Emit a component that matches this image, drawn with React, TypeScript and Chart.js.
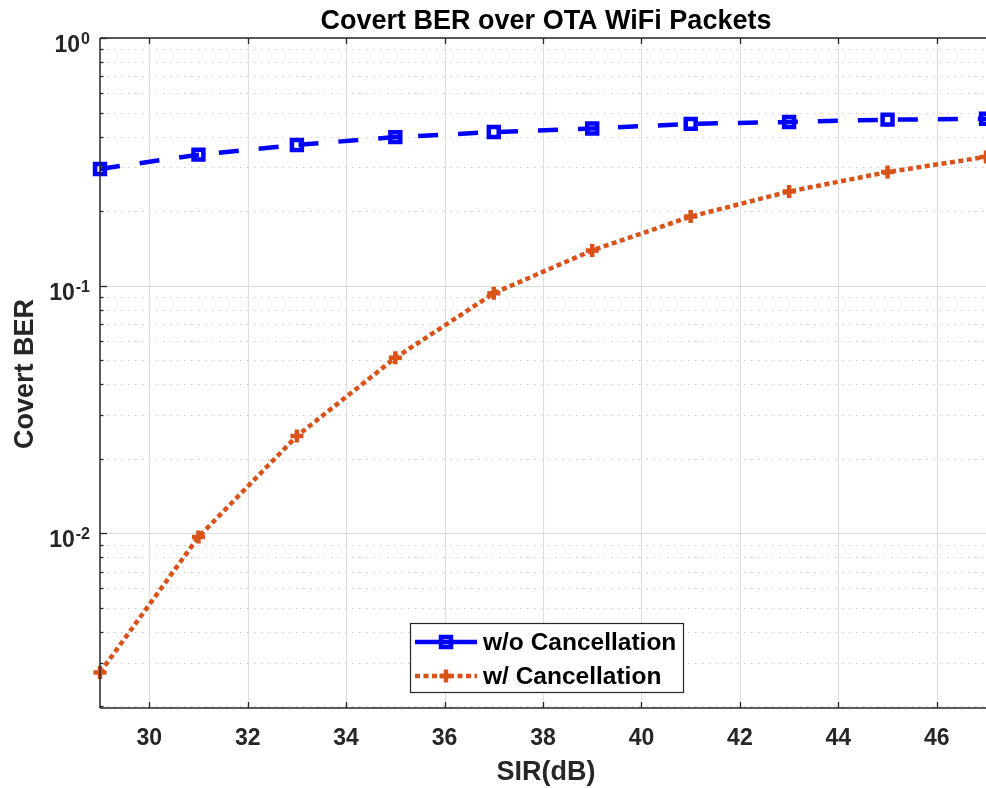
import { useEffect, useRef } from 'react';
import { Chart, registerables } from 'chart.js';

Chart.register(...registerables);

// ---- data ----
const sirDb = [29, 31, 33, 35, 37, 39, 41, 43, 45, 47];
const berNoCancel = [0.296, 0.338, 0.37, 0.398, 0.417, 0.431, 0.45, 0.458, 0.468, 0.472];
const berCancel = [0.00274, 0.00966, 0.0247, 0.0511, 0.0932, 0.1388, 0.19, 0.24, 0.2875, 0.331];
const xTickValues = [30, 32, 34, 36, 38, 40, 42, 44, 46];
const yDecadeTicks = [1, 0.1, 0.01];
const yTickExponents = ['0', '-1', '-2'];
const seriesLabels = ['w/o Cancellation', 'w/ Cancellation'];
const titleText = 'Covert BER over OTA WiFi Packets';
const xLabelText = 'SIR(dB)';
const yLabelText = 'Covert BER';

const X_MIN = 29;
const X_MAX = 47;
const Y_MIN = 0.00197;
const Y_MAX = 1;

const FONT = "'Liberation Sans', Arial, Helvetica, sans-serif";
const AX = '#262626';
const BLUE = '#0000ff';
const ORANGE = '#D95319';
const BLUE_DASH = [20, 20];
const ORANGE_DASH = [5, 3.5];

function seg(ctx: CanvasRenderingContext2D, x1: number, y1: number, x2: number, y2: number) {
  ctx.beginPath();
  ctx.moveTo(x1, y1);
  ctx.lineTo(x2, y2);
  ctx.stroke();
}

const decorPlugin = {
  id: 'decor',
  beforeDatasetsDraw(chart: any) {
    const { ctx, chartArea: a, scales } = chart;
    const x = scales.x;
    const y = scales.y;
    ctx.save();
    // minor dotted horizontal grid
    ctx.strokeStyle = '#c6c6c6';
    ctx.lineWidth = 1;
    ctx.setLineDash([1.5, 5.5]);
    for (let d = -3; d <= 0; d++) {
      for (let k = 2; k <= 9; k++) {
        const v = k * Math.pow(10, d);
        if (v < Y_MIN || v > Y_MAX) continue;
        const py = Math.round(y.getPixelForValue(v)) + 0.5;
        seg(ctx, a.left, py, a.right, py);
      }
    }
    ctx.setLineDash([]);
    // major grid
    ctx.strokeStyle = '#dedede';
    ctx.lineWidth = 1.2;
    for (const v of xTickValues) {
      const px = Math.round(x.getPixelForValue(v)) + 0.5;
      seg(ctx, px, a.top, px, a.bottom);
    }
    for (const v of yDecadeTicks) {
      const py = Math.round(y.getPixelForValue(v)) + 0.5;
      seg(ctx, a.left, py, a.right, py);
    }
    ctx.restore();
  },
  afterDatasetsDraw(chart: any) {
    const { ctx, chartArea: a, scales } = chart;
    const x = scales.x;
    const y = scales.y;
    ctx.save();
    // axes box
    ctx.strokeStyle = AX;
    ctx.lineWidth = 1.5;
    seg(ctx, a.left, a.top, a.left, a.bottom);
    seg(ctx, a.left, a.bottom, a.right, a.bottom);
    seg(ctx, a.left, a.top, a.right, a.top);
    // x ticks
    ctx.lineWidth = 1.3;
    for (const v of xTickValues) {
      const px = Math.round(x.getPixelForValue(v)) + 0.5;
      seg(ctx, px, a.bottom, px, a.bottom - 6);
      seg(ctx, px, a.top, px, a.top + 6);
    }
    // y ticks
    for (const v of yDecadeTicks) {
      const py = Math.round(y.getPixelForValue(v)) + 0.5;
      seg(ctx, a.left, py, a.left + 7, py);
    }
    for (let d = -3; d <= 0; d++) {
      for (let k = 2; k <= 9; k++) {
        const v = k * Math.pow(10, d);
        if (v < Y_MIN || v > Y_MAX) continue;
        const py = Math.round(y.getPixelForValue(v)) + 0.5;
        seg(ctx, a.left, py, a.left + 3.5, py);
      }
    }
    // x tick labels
    ctx.fillStyle = AX;
    ctx.font = `bold 23px ${FONT}`;
    ctx.textAlign = 'center';
    ctx.textBaseline = 'alphabetic';
    for (const v of xTickValues) {
      ctx.fillText(String(v), x.getPixelForValue(v), a.bottom + 37);
    }
    // y tick labels 10^n
    yDecadeTicks.forEach((v, i) => {
      const py = y.getPixelForValue(v);
      ctx.font = `bold 16px ${FONT}`;
      ctx.textAlign = 'right';
      const sup = yTickExponents[i];
      const sw = ctx.measureText(sup).width;
      ctx.fillText(sup, 90, py + 6);
      ctx.font = `bold 23px ${FONT}`;
      ctx.fillText('10', 90 - sw - 1, py + 14);
    });
    // title
    ctx.fillStyle = '#000';
    ctx.font = `bold 27px ${FONT}`;
    ctx.textAlign = 'center';
    ctx.fillText(titleText, 546, 29);
    // x label
    ctx.fillStyle = AX;
    ctx.fillText(xLabelText, 546, 780);
    // y label
    ctx.save();
    ctx.translate(33, 374);
    ctx.rotate(-Math.PI / 2);
    ctx.fillText(yLabelText, 0, 0);
    ctx.restore();

    // legend
    const lx = 410, ly = 623, lw = 273, lh = 69;
    ctx.fillStyle = '#fff';
    ctx.fillRect(lx, ly, lw, lh);
    ctx.strokeStyle = AX;
    ctx.lineWidth = 1.2;
    ctx.strokeRect(lx + 0.5, ly + 0.5, lw, lh);
    const rows = [642, 676];
    // row 1
    ctx.strokeStyle = BLUE;
    ctx.lineWidth = 4.5;
    seg(ctx, 415, rows[0], 477, rows[0]);
    ctx.strokeRect(446 - 5, rows[0] - 5, 10, 10);
    // row 2
    ctx.strokeStyle = ORANGE;
    ctx.setLineDash(ORANGE_DASH);
    seg(ctx, 415, rows[1], 477, rows[1]);
    ctx.setLineDash([]);
    seg(ctx, 446 - 6.5, rows[1], 446 + 6.5, rows[1]);
    seg(ctx, 446, rows[1] - 6.5, 446, rows[1] + 6.5);
    ctx.fillStyle = '#000';
    ctx.font = `bold 24.5px ${FONT}`;
    ctx.textAlign = 'left';
    ctx.textBaseline = 'middle';
    ctx.fillText(seriesLabels[0], 483, rows[0] + 1);
    ctx.fillText(seriesLabels[1], 483, rows[1] + 1);
    ctx.restore();
  },
};

export default function App() {
  const ref = useRef<HTMLCanvasElement | null>(null);
  useEffect(() => {
    document.body.style.margin = '0';
    document.body.style.background = '#fff';
    const canvas = ref.current;
    if (!canvas) return;
    const chart = new Chart(canvas, {
      type: 'line',
      data: {
        datasets: [
          {
            label: seriesLabels[0],
            data: sirDb.map((s, i) => ({ x: s, y: berNoCancel[i] })),
            borderColor: BLUE,
            borderWidth: 4.5,
            borderDash: BLUE_DASH,
            pointStyle: 'rect',
            pointRadius: 7,
            pointBorderWidth: 4.5,
            pointBorderColor: BLUE,
            pointBackgroundColor: 'rgba(0,0,0,0)',
            tension: 0,
            clip: false as any,
          },
          {
            label: seriesLabels[1],
            data: sirDb.map((s, i) => ({ x: s, y: berCancel[i] })),
            borderColor: ORANGE,
            borderWidth: 4.5,
            borderDash: ORANGE_DASH,
            pointStyle: 'cross',
            pointRadius: 6.5,
            pointBorderWidth: 4.5,
            pointBorderColor: ORANGE,
            pointBackgroundColor: ORANGE,
            tension: 0,
            clip: false as any,
          },
        ],
      },
      options: {
        animation: false,
        responsive: false,
        devicePixelRatio: 1,
        layout: { autoPadding: false, padding: { top: 38, left: 0, right: 0, bottom: 0 } },
        plugins: {
          legend: { display: false },
          title: { display: false },
          tooltip: { enabled: false },
        },
        scales: {
          x: {
            type: 'linear',
            min: X_MIN,
            max: X_MAX,
            ticks: { display: false },
            grid: { display: false, drawTicks: false },
            border: { display: false },
            afterFit: (s: any) => {
              s.height = 80;
            },
          },
          y: {
            type: 'logarithmic',
            min: Y_MIN,
            max: Y_MAX,
            ticks: { display: false },
            grid: { display: false, drawTicks: false },
            border: { display: false },
            afterFit: (s: any) => {
              s.width = 100;
            },
          },
        },
      },
      plugins: [decorPlugin],
    });
    return () => chart.destroy();
  }, []);
  return <canvas ref={ref} width={986} height={788} style={{ display: 'block' }} />;
}
